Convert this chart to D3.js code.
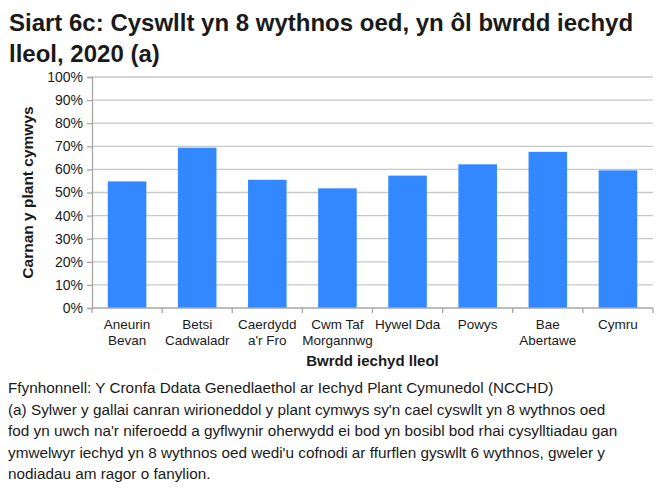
<!DOCTYPE html>
<html>
<head>
<meta charset="utf-8">
<script src="https://cdn.jsdelivr.net/npm/d3@7"></script>
<style>
  body { margin: 0; background: #fff; }
  text { font-family: "Liberation Sans", Arial, sans-serif; fill: #1a1a1a; }
</style>
</head>
<body>
<div id="chart"></div>
<script>
// data
const categories = [
  ["Aneurin", "Bevan"],
  ["Betsi", "Cadwaladr"],
  ["Caerdydd", "a'r Fro"],
  ["Cwm Taf", "Morgannwg"],
  ["Hywel Dda"],
  ["Powys"],
  ["Bae", "Abertawe"],
  ["Cymru"]
];
const values = [54.8, 69.4, 55.5, 51.8, 57.3, 62.2, 67.6, 59.6];
const yTicks = [0, 10, 20, 30, 40, 50, 60, 70, 80, 90, 100];

const titleLines = [
  "Siart 6c: Cyswllt yn 8 wythnos oed, yn ôl bwrdd iechyd",
  "lleol, 2020 (a)"
];
const yTitle = "Carnan y plant cymwys";
const xTitle = "Bwrdd iechyd lleol";
const notes = [
  "Ffynhonnell: Y Cronfa Ddata Genedlaethol ar Iechyd Plant Cymunedol (NCCHD)",
  "(a) Sylwer y gallai canran wirioneddol y plant cymwys sy'n cael cyswllt yn 8 wythnos oed",
  "fod yn uwch na'r niferoedd a gyflwynir oherwydd ei bod yn bosibl bod rhai cysylltiadau gan",
  "ymwelwyr iechyd yn 8 wythnos oed wedi'u cofnodi ar ffurflen gyswllt 6 wythnos, gweler y",
  "nodiadau am ragor o fanylion."
];

const W = 667, H = 490;
const m = {left: 92, right: 14, top: 77, bottom: 182};

const svg = d3.select("#chart").append("svg")
  .attr("width", W)
  .attr("height", H);

// title
svg.append("g").selectAll("text")
  .data(titleLines)
  .enter().append("text")
  .attr("x", 9)
  .attr("y", (d, i) => 31 + i * 31)
  .style("font-size", "24px")
  .style("font-weight", "bold")
  .text(d => d);

const x = d3.scaleBand()
  .domain(d3.range(categories.length))
  .range([m.left, W - m.right])
  .paddingInner(0.45)
  .paddingOuter(0.225);

const y = d3.scaleLinear()
  .domain([0, 100])
  .range([H - m.bottom, m.top]);

// gridlines
svg.append("g")
  .selectAll("line")
  .data(yTicks.slice(1))
  .enter().append("line")
  .attr("x1", m.left)
  .attr("x2", W - m.right)
  .attr("y1", d => y(d))
  .attr("y2", d => y(d))
  .attr("stroke", "#c8c8c8")
  .attr("stroke-width", 1.3);

// bars
svg.append("g")
  .selectAll("rect")
  .data(values)
  .enter().append("rect")
  .attr("x", (d, i) => x(i))
  .attr("width", x.bandwidth())
  .attr("y", d => y(d))
  .attr("height", d => y(0) - y(d))
  .attr("fill", "#3388ff");

// y axis
const yAxis = svg.append("g")
  .attr("transform", "translate(" + m.left + ",0)")
  .call(d3.axisLeft(y).tickValues(yTicks).tickSize(5).tickPadding(4)
    .tickFormat(d => d + "%"));
yAxis.selectAll("line, path").attr("stroke", "#a6a6a6").attr("stroke-width", 1.3);
yAxis.selectAll("text").style("font-size", "14px").attr("fill", "#1a1a1a");

// x axis (ticks at band boundaries)
const xa = svg.append("g");
xa.append("line")
  .attr("x1", m.left).attr("x2", W - m.right)
  .attr("y1", y(0)).attr("y2", y(0))
  .attr("stroke", "#a6a6a6").attr("stroke-width", 1.3);
xa.selectAll(".tk")
  .data(d3.range(categories.length + 1))
  .enter().append("line")
  .attr("class", "tk")
  .attr("x1", i => m.left + i * x.step())
  .attr("x2", i => m.left + i * x.step())
  .attr("y1", y(0)).attr("y2", y(0) + 5)
  .attr("stroke", "#a6a6a6").attr("stroke-width", 1.3);

const lbl = xa.selectAll(".lbl")
  .data(categories)
  .enter().append("text")
  .attr("class", "lbl")
  .attr("text-anchor", "middle")
  .style("font-size", "13.5px");
lbl.selectAll("tspan")
  .data((d, i) => d.map(t => ({t: t, i: i})))
  .enter().append("tspan")
  .attr("x", d => x(d.i) + x.bandwidth() / 2)
  .attr("y", (d, j) => y(0) + 21 + j * 15.5)
  .text(d => d.t);

// axis titles
svg.append("text")
  .attr("x", (m.left + W - m.right) / 2)
  .attr("y", 366)
  .attr("text-anchor", "middle")
  .style("font-size", "15px")
  .style("font-weight", "bold")
  .text(xTitle);

svg.append("text")
  .attr("transform", "translate(33," + ((m.top + H - m.bottom) / 2) + ") rotate(-90)")
  .attr("text-anchor", "middle")
  .style("font-size", "15.5px")
  .style("font-weight", "bold")
  .text(yTitle);

// notes
svg.append("g").selectAll("text")
  .data(notes)
  .enter().append("text")
  .attr("x", 8)
  .attr("y", (d, i) => 393 + i * 21.5)
  .style("font-size", "15.3px")
  .text(d => d);
</script>
</body>
</html>
